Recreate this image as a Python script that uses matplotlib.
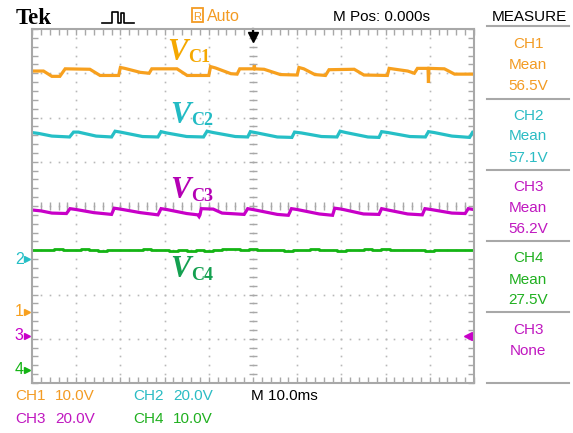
import numpy as np
import matplotlib
matplotlib.use("Agg")
import matplotlib.pyplot as plt
from matplotlib.lines import Line2D
from matplotlib.patches import Rectangle

# time in ms (10 ms/div), level in screen divisions (center = 0)
ch1_t = [0, 2.6, 4.5, 6.3, 7.5, 13.1, 15.4, 19.6, 20.0, 21.0, 24.5, 26.5, 27.1, 32.8,
         35.1, 40.0, 40.4, 41.5, 45.0, 46.4, 47.0, 50.2, 50.3, 50.4, 52.5, 56.2, 60.0,
         60.4, 61.5, 64.0, 66.4, 67.2, 72.9, 75.1, 80.4, 80.8, 85.0, 86.5, 87.2, 89.6,
         89.7, 89.8, 93.3, 95.6, 100]
ch1_v = [3.05, 3.05, 2.93, 2.93, 3.10, 3.09, 2.95, 2.95, 3.13, 3.11, 3.02, 3.00, 3.10, 3.10,
         2.95, 2.95, 3.15, 3.12, 2.99, 2.98, 3.10, 3.10, 3.18, 3.10, 3.09, 2.97, 2.96,
         3.13, 3.10, 2.97, 2.95, 3.08, 3.09, 2.96, 2.95, 3.11, 3.05, 3.00, 3.11, 3.11,
         2.78, 3.11, 3.10, 2.98, 2.98]

ch2_t = [0, 1.5, 4.5, 8.5, 9.4, 10.5, 14.5, 18.0, 18.8, 20.0, 25.0, 28.5, 29.2, 30.5,
         35.0, 38.8, 39.6, 41.0, 46.0, 48.8, 49.4, 51.0, 55.5, 58.8, 59.4, 61.0, 65.5,
         69.0, 69.7, 71.0, 76.0, 78.5, 79.1, 80.5, 85.5, 89.0, 89.7, 91.0, 95.0, 99.0,
         99.7, 100]
ch2_v = [1.66, 1.64, 1.58, 1.56, 1.67, 1.67, 1.58, 1.56, 1.69, 1.67, 1.57, 1.56, 1.68, 1.65,
         1.57, 1.56, 1.69, 1.66, 1.57, 1.56, 1.68, 1.65, 1.56, 1.55, 1.67, 1.65, 1.57,
         1.56, 1.69, 1.66, 1.56, 1.55, 1.68, 1.66, 1.57, 1.56, 1.68, 1.66, 1.58, 1.55,
         1.67, 1.67]

ch3_t = [0, 2, 4.5, 7.8, 8.6, 10, 14, 18, 18.6, 20, 24.5, 28.5, 29.2, 30.5, 35, 37.5,
         37.8, 38.0, 38.3, 41, 43, 48, 48.8, 50, 55.5, 58, 58.7, 60, 65, 68, 68.5, 70,
         75, 78.5, 79.1, 80.5, 85, 88.3, 88.9, 90.3, 95, 98, 98.7, 100]
ch3_v = [-0.09, -0.11, -0.16, -0.17, -0.06, -0.08, -0.15, -0.19, -0.05, -0.07, -0.15, -0.20,
         -0.06, -0.08, -0.17, -0.20, -0.24, -0.20, -0.06, -0.07, -0.16, -0.19, -0.06, -0.08,
         -0.19, -0.21, -0.06, -0.08, -0.18, -0.21, -0.05, -0.07, -0.18, -0.19, -0.06, -0.09,
         -0.18, -0.20, -0.06, -0.08, -0.16, -0.17, -0.06, -0.08]

ch4_t = [0, 2, 4, 6, 8, 10, 12, 14, 16, 18, 20, 22, 24, 26, 28, 30, 32, 34, 36, 38, 40,
         42, 44, 46, 48, 50, 52, 54, 56, 58, 60, 62, 64, 66, 68, 70, 72, 74, 76, 78, 80,
         82, 84, 86, 88, 90, 92, 94, 96, 98, 100]
ch4_v = [-1.00, -0.99, -0.99, -0.98, -0.99, -1.00, -0.98, -1.00, -1.02, -1.00, -1.00, -0.99,
         -0.99, -0.98, -0.99, -1.00, -1.01, -1.00, -1.02, -1.00, -1.01, -0.99, -0.97, -0.98,
         -0.99, -0.98, -0.99, -1.00, -1.00, -1.01, -0.99, -1.00, -0.98, -0.99, -1.00, -1.01,
         -1.00, -0.99, -0.98, -0.99, -0.98, -0.99, -1.00, -0.99, -1.00, -1.01, -0.99, -1.00,
         -1.00, -0.99, -0.99]

ground_levels = [-2.39, -1.20, -2.93, -3.70]   # CH1..CH4 reference markers
trig_level = -2.93

ch_names = ["CH1", "CH2", "CH3", "CH4"]
ch_scales = ["10.0V", "20.0V", "20.0V", "10.0V"]
meas_ch = ["CH1", "CH2", "CH3", "CH4", "CH3"]
meas_type = ["Mean", "Mean", "Mean", "Mean", "None"]
meas_val = ["56.5V", "57.1V", "56.2V", "27.5V", ""]

trace_cols = ["#F7A01E", "#26BFC6", "#C800C8", "#14B414"]
label_cols = ["#F5A800", "#22BBC4", "#B400B4", "#14A050"]
text_cols = ["#F39B23", "#2BBCC4", "#C018C0", "#20B020"]
grid_col = "#A8A8A8"

W, H = 573, 433
fig = plt.figure(figsize=(W / 100, H / 100), dpi=100)
fig.patch.set_facecolor("white")

def fx(x):
    return x / W

def fy(y):
    return 1 - y / H

ax = fig.add_axes([fx(32), fy(383), (474 - 32) / W, (383 - 29) / H])
ax.set_xlim(0, 100)
ax.set_ylim(-4, 4)
for s in ax.spines.values():
    s.set_color(grid_col)
    s.set_linewidth(1.5)
ax.set_xticks(np.arange(0, 101, 10))
ax.set_xticks(np.arange(0, 101, 2), minor=True)
ax.set_yticks(np.arange(-4, 5, 1))
ax.set_yticks(np.arange(-4, 4.01, 0.2), minor=True)
ax.tick_params(which="both", direction="in", length=4, width=1, color=grid_col,
               top=True, right=True, labelbottom=False, labelleft=False)

# dotted graticule
gx, gy = np.meshgrid(np.arange(10, 100, 10), np.arange(-4, 4.01, 0.2))
ax.plot(gx.ravel(), gy.ravel(), ls="none", marker="s", ms=1.2, color="#B8B8B8", mew=0)
gx, gy = np.meshgrid(np.arange(2, 100, 2), np.arange(-3, 4, 1))
ax.plot(gx.ravel(), gy.ravel(), ls="none", marker="s", ms=1.2, color="#B8B8B8", mew=0)
# center cross ticks
ax.plot(np.arange(2, 100, 2), np.zeros(49), ls="none", marker="|", ms=6, color=grid_col, mew=1)
cy = np.arange(-3.8, 4, 0.2)
ax.plot(np.full(len(cy), 50), cy, ls="none", marker="_", ms=6, color=grid_col, mew=1)

# traces
ax.plot(ch1_t, ch1_v, color=trace_cols[0], lw=2.3, solid_joinstyle="miter")
ax.plot(ch2_t, ch2_v, color=trace_cols[1], lw=2.3, solid_joinstyle="miter")
ax.plot(ch3_t, ch3_v, color=trace_cols[2], lw=2.3, solid_joinstyle="miter")
ax.plot(ch4_t, ch4_v, color=trace_cols[3], lw=2.0, drawstyle="steps-mid")

# ground markers on the left
for i, g in enumerate(ground_levels):
    ax.plot([-1.2], [g], marker=">", ms=5, color=trace_cols[i], clip_on=False)
    ax.text(-1.9, g, str(i + 1), color=trace_cols[i], fontsize=11.5, ha="right", va="center",
            family="Liberation Sans")
# trigger level marker (right) and trigger position (top)
ax.plot([98.6], [trig_level], marker="<", ms=6, color=trace_cols[2], clip_on=False)
ax.plot([98.6, 100], [trig_level, trig_level], color=trace_cols[2], lw=1.2, clip_on=False)
ax.plot([50, 50], [4, 3.85], color="black", lw=1.6, clip_on=False)
ax.plot([50], [3.82], marker="v", ms=7, color="black", clip_on=False)

# V_C labels
vlab = [("C1", 167, 60, 62), ("C2", 170, 123, 125), ("C3", 170, 198, 201), ("C4", 170, 277, 280)]
for i, (sub, x0, yb, ys) in enumerate(vlab):
    fig.text(fx(x0), fy(yb), "V", family="Liberation Serif", style="italic", weight="bold",
             fontsize=22, color=label_cols[i], va="baseline")
    fig.text(fx(x0 + 21), fy(ys), sub, family="Liberation Serif", weight="bold", fontsize=13,
             color=label_cols[i], va="baseline")

sans = "Liberation Sans"
# header
fig.text(fx(16), fy(24), "Tek", family="Liberation Serif", weight="bold", fontsize=16.5,
         color="black", va="baseline")
fig.add_artist(Line2D([fx(102), fx(112), fx(112), fx(118), fx(118), fx(121), fx(121), fx(124),
                       fx(124), fx(134)],
                      [fy(23), fy(23), fy(12), fy(12), fy(23), fy(23), fy(13), fy(13), fy(23), fy(23)],
                      color="black", lw=1.2))
fig.add_artist(Rectangle((fx(192), fy(22)), fx(11), 14 / H, fill=False, ec=text_cols[0], lw=1.3))
fig.text(fx(197.5), fy(19.5), "R", family=sans, fontsize=8, color=text_cols[0], ha="center",
         va="baseline")
fig.text(fx(207), fy(21), "Auto", family=sans, fontsize=11.5, color=text_cols[0], va="baseline")
fig.text(fx(333), fy(21), "M Pos: 0.000s", family=sans, fontsize=11, color="black", va="baseline")
fig.text(fx(529), fy(21), "MEASURE", family=sans, fontsize=11, color="black", ha="center",
         va="baseline")

# measure panel
col_idx = [0, 1, 2, 3, 2]
for yl in [26, 99, 170, 241, 312, 383]:
    fig.add_artist(Line2D([fx(487), fx(569)], [fy(yl), fy(yl)], color=grid_col, lw=1.5))
for k in range(5):
    top = 48 + k * 71.5
    c = text_cols[col_idx[k]]
    fig.text(fx(528), fy(top), meas_ch[k], family=sans, fontsize=11, color=c, ha="center",
             va="baseline")
    fig.text(fx(528), fy(top + 21), meas_type[k], family=sans, fontsize=11, color=c,
             ha="center", va="baseline")
    if meas_val[k]:
        fig.text(fx(528), fy(top + 42), meas_val[k], family=sans, fontsize=11, color=c,
                 ha="center", va="baseline")

# bottom channel settings
pos = [(15, 400), (133, 400), (15, 423), (133, 423)]
for i in range(4):
    x0, yb = pos[i]
    fig.text(fx(x0), fy(yb), ch_names[i], family=sans, fontsize=11, color=text_cols[i],
             va="baseline")
    fig.text(fx(x0 + 40), fy(yb), ch_scales[i], family=sans, fontsize=11, color=text_cols[i],
             va="baseline")
fig.text(fx(251), fy(400), "M 10.0ms", family=sans, fontsize=11, color="black", va="baseline")

fig.savefig("out.png", dpi=100)
